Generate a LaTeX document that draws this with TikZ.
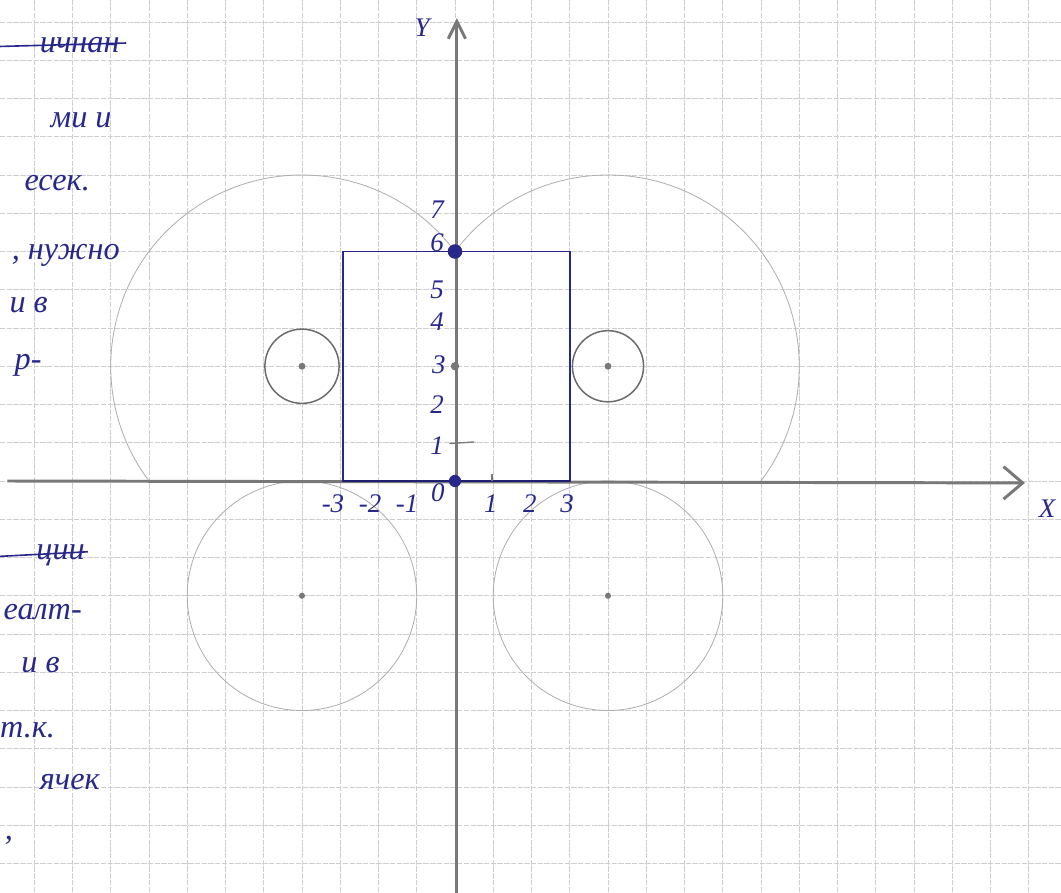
\documentclass[tikz,border=0pt]{standalone}
\usepackage{fontspec}
\setmainfont{Liberation Serif}
\usetikzlibrary{arrows.meta}
\definecolor{ink}{RGB}{40,40,140}
\definecolor{pencil}{RGB}{120,120,120}
\definecolor{gridc}{RGB}{205,205,210}
\tikzset{
  hw/.style={text=ink, font=\itshape\fontsize{24}{26}\selectfont, inner sep=0pt},
  lbl/.style={text=ink, font=\itshape\fontsize{20}{22}\selectfont, inner sep=0pt},
  faint/.style={draw=pencil!60, line width=0.6pt},
  smallc/.style={draw=pencil!110, line width=1.1pt},
  axis/.style={draw=pencil, line width=2.2pt},
  gridline/.style={draw=gridc, line width=0.6pt, dash pattern=on 4pt off 1pt},
  centerdot/.style={fill=pencil, draw=none},
  inkdot/.style={fill=ink, draw=none},
  strike/.style={draw=ink, line width=1.2pt}
}
\begin{document}
\begin{tikzpicture}
\fill[white] (-11.895,-10.745) rectangle (15.843,12.575);
\useasboundingbox (-11.895,-10.745) rectangle (15.843,12.575);
% grid
\foreach \i in {-11,...,15} \draw[gridline] (\i,-10.745) -- (\i,12.575);
\foreach \j in {-10,...,12} \draw[gridline] (-11.895,\j) -- (15.843,\j);

% coordinates
\coordinate (o) at (0,0);
\coordinate (p6) at (0,6);
\coordinate (cl) at (-4,3);
\coordinate (cr) at (4,3);
\coordinate (dl) at (-4,-3);
\coordinate (dr) at (4,-3);
\coordinate (xs) at (-11.7,0);
\coordinate (xe) at (14.9,-0.05);
\coordinate (ys) at (0.05,-10.8);
\coordinate (ye) at (0.05,12.1);

% large faint circles
\draw[faint] (p6) arc[start angle=36.87, end angle=216.87, radius=5];
\draw[faint] (p6) arc[start angle=143.13, end angle=-36.87, radius=5];
\draw[faint] (dl) circle[radius=3];
\draw[faint] (dr) circle[radius=3];
% small circles
\draw[smallc] (cl) circle[radius=0.97];
\draw[smallc] (cr) circle[radius=0.93];
% centre dots
\fill[centerdot] (cl) circle[radius=0.09];
\fill[centerdot] (cr) circle[radius=0.09];
\fill[centerdot] (dl) circle[radius=0.08];
\fill[centerdot] (dr) circle[radius=0.08];

% axes
\draw[axis, -{Straight Barb[length=0.5cm, width=0.85cm, line width=2.2pt]}] (xs) -- (xe);
\draw[axis, -{Straight Barb[length=0.45cm, width=0.45cm, line width=2.2pt]}] (ys) -- (ye);

% rectangle
\coordinate (r1) at (-2.92,0);
\coordinate (r2) at (3,6);
\draw[draw=ink, line width=1.3pt] (r1) rectangle (r2);
\draw[draw=ink!80!black, line width=2pt] (r1) -- (3,0);

% ticks
\draw[draw=pencil, line width=1pt] (-0.15,0.98) -- (0.5,1.02);
\draw[draw=pencil, line width=1.2pt] (0.97,0) -- (0.97,0.18);

% special points
\fill[inkdot] (p6) circle[radius=0.19];
\fill[inkdot] (o) circle[radius=0.16];
\fill[centerdot] (0,3) circle[radius=0.11];

% axis labels
\node[lbl] (X) at (15.48,-0.73) {X};
\node[lbl] (Y) at (-0.86,11.84) {Y};
\node[lbl] (y7) at (-0.47,7.08) {7};
\node[lbl] (y6) at (-0.47,6.22) {6};
\node[lbl] (y5) at (-0.47,4.99) {5};
\node[lbl] (y4) at (-0.47,4.16) {4};
\node[lbl] (y3) at (-0.42,3.03) {3};
\node[lbl] (y2) at (-0.47,1.99) {2};
\node[lbl] (y1) at (-0.47,0.92) {1};
\node[lbl] (y0) at (-0.45,-0.3) {0};
\node[lbl] (xm3) at (-3.19,-0.6) {-3};
\node[lbl] (xm2) at (-2.22,-0.6) {-2};
\node[lbl] (xm1) at (-1.25,-0.6) {-1};
\node[lbl] (x1) at (0.94,-0.6) {1};
\node[lbl] (x2) at (1.96,-0.6) {2};
\node[lbl] (x3) at (2.93,-0.6) {3};

% margin notes (cut off at the left edge)
\node[hw, anchor=east] (t1) at (-8.76,11.40) {ичнан};
\draw[strike] (-11.9,11.36) -- (-8.6,11.45);
\node[hw, anchor=east] (t2) at (-8.97,9.44) {ми и};
\node[hw, anchor=east] (t3) at (-9.54,7.79) {есек.};
\node[hw, anchor=east] (t4) at (-8.76,5.91) {, нужно};
\node[hw, anchor=east] (t5) at (-10.64,4.60) {и в};
\node[hw, anchor=east] (t6) at (-10.80,3.03) {р-};
\node[hw, anchor=east] (t7) at (-9.67,-1.93) {ции};
\draw[strike] (-11.9,-1.97) -- (-9.6,-1.85);
\node[hw, anchor=east] (t8) at (-9.75,-3.42) {еалт-};
\node[hw, anchor=east] (t9) at (-10.33,-4.81) {и в};
\node[hw, anchor=east] (t10) at (-10.45,-6.51) {т.к.};
\node[hw, anchor=east] (t11) at (-9.28,-7.87) {ячек};
\node[hw, anchor=east] (t12) at (-11.55,-9.39) {,};
\end{tikzpicture}
\end{document}
